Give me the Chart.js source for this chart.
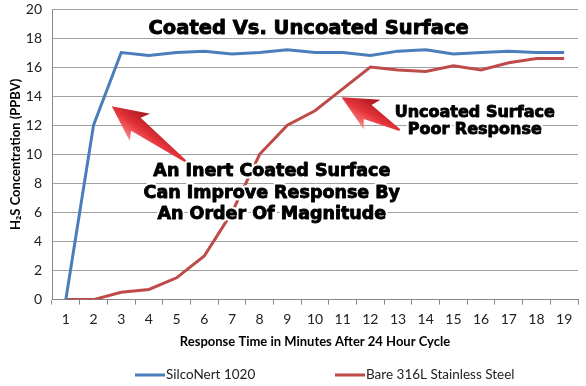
<!DOCTYPE html>
<html>
<head>
<meta charset="utf-8">
<script src="https://cdn.jsdelivr.net/npm/chart.js@4"></script>
<style>
  html, body { margin: 0; padding: 0; background: #fff; }
  #wrap { width: 586px; height: 386px; }
</style>
</head>
<body>
<div id="wrap"><canvas id="chart"></canvas></div>
<script>
const minutes = ['1','2','3','4','5','6','7','8','9','10','11','12','13','14','15','16','17','18','19'];
const silconert = [0, 12, 17, 16.8, 17, 17.1, 16.9, 17, 17.2, 17, 17, 16.8, 17.1, 17.2, 16.9, 17, 17.1, 17, 17];
const bareSteel = [0, 0, 0.5, 0.7, 1.5, 3, 6, 10, 12, 13, 14.5, 16, 15.8, 15.7, 16.1, 15.8, 16.3, 16.6, 16.6];
const yTicks = [0, 2, 4, 6, 8, 10, 12, 14, 16, 18, 20];

// callouts drawn on top of the plot, placed in data units
const titleText = 'Coated Vs. Uncoated Surface';
const noteCoated = ['An Inert Coated Surface', 'Can Improve Response By', 'An Order Of Magnitude'];
const noteBare = ['Uncoated Surface', 'Poor Response'];

function drawArrow(ctx, x1, y1, x2, y2) {
  // fat 3d-ish arrow from tail (x1,y1) to tip (x2,y2)
  const ang = Math.atan2(y2 - y1, x2 - x1);
  const len = Math.hypot(x2 - x1, y2 - y1);
  ctx.save();
  ctx.translate(x1, y1);
  ctx.rotate(ang);
  const head = 30, hw = 17, sw = 1, sw2 = 8;
  ctx.beginPath();
  ctx.moveTo(0, -sw);
  ctx.lineTo(len - head, -sw2);
  ctx.lineTo(len - head - 5, -hw);
  ctx.lineTo(len, 0);
  ctx.lineTo(len - head - 5, hw);
  ctx.lineTo(len - head, sw2);
  ctx.lineTo(0, sw);
  ctx.closePath();
  const g = ctx.createLinearGradient(0, -hw, 0, hw);
  g.addColorStop(0, '#fa8a8a');
  g.addColorStop(0.45, '#e6343b');
  g.addColorStop(1, '#a3121a');
  ctx.fillStyle = g;
  ctx.fill();
  ctx.restore();
}

function haloText(ctx, text, x, y) {
  ctx.lineJoin = 'round';
  ctx.lineWidth = 5;
  ctx.strokeStyle = '#fff';
  ctx.strokeText(text, x, y);
  ctx.lineWidth = 0.9;
  ctx.strokeStyle = '#000';
  ctx.strokeText(text, x, y);
  ctx.fillStyle = '#000';
  ctx.fillText(text, x, y);
}

const callouts = {
  id: 'callouts',
  afterDatasetsDraw(chart) {
    const ctx = chart.ctx;
    const xs = chart.scales.x, ys = chart.scales.y;
    const px = v => xs.getPixelForValue(v - 1);
    const py = v => ys.getPixelForValue(v);
    ctx.save();
    drawArrow(ctx, px(5.37), py(9.45), px(2.66), py(13.3));
    drawArrow(ctx, px(13.06), py(11.66), px(10.96), py(13.93));
    ctx.textAlign = 'center';
    ctx.textBaseline = 'middle';
    ctx.font = 'bold 19.5px "DejaVu Sans"';
    haloText(ctx, titleText, px(9.77), py(18.6));
    ctx.font = 'bold 17.5px "DejaVu Sans"';
    const c1 = [8.83, 7.31, 5.86];
    noteCoated.forEach((t, i) => haloText(ctx, t, px(8.44), py(c1[i])));
    ctx.font = 'bold 16px "DejaVu Sans"';
    const c2 = [12.83, 11.66];
    noteBare.forEach((t, i) => haloText(ctx, t, px(15.77), py(c2[i])));
    ctx.restore();
  }
};

// legend drawn by hand so the two entries sit far apart like the original
const legendStarts = [135, 335];
const bottomLegend = {
  id: 'bottomLegend',
  afterDraw(chart) {
    const ctx = chart.ctx;
    const y = chart.height - 11;
    ctx.save();
    ctx.font = '13.5px Lato';
    ctx.textBaseline = 'middle';
    ctx.textAlign = 'left';
    chart.data.datasets.forEach((ds, i) => {
      const x = legendStarts[i];
      ctx.fillStyle = ds.borderColor;
      ctx.fillRect(x, y - 1.5, 30, 3);
      ctx.fillStyle = '#222';
      ctx.fillText(ds.label, x + 31, y);
    });
    ctx.restore();
  }
};

new Chart(document.getElementById('chart'), {
  type: 'line',
  data: {
    labels: minutes,
    datasets: [
      {
        label: 'SilcoNert 1020',
        data: silconert,
        borderColor: '#4a7ebb',
        backgroundColor: '#4a7ebb',
        borderWidth: 3,
        pointRadius: 0,
        tension: 0
      },
      {
        label: 'Bare 316L Stainless Steel',
        data: bareSteel,
        borderColor: '#be4b48',
        backgroundColor: '#be4b48',
        borderWidth: 3,
        pointRadius: 0,
        tension: 0
      }
    ]
  },
  options: {
    responsive: true,
    maintainAspectRatio: false,
    animation: false,
    layout: { padding: { top: 9, right: 8, left: 4, bottom: 36 } },
    plugins: {
      legend: { display: false },
      tooltip: { enabled: false }
    },
    scales: {
      x: {
        offset: true,
        grid: { offset: true, drawOnChartArea: false, drawTicks: true, tickLength: 5, color: '#888' },
        border: { color: '#888' },
        ticks: { color: '#222', font: { family: 'Lato', size: 14 }, padding: 6, maxRotation: 0 },
        title: {
          display: true,
          text: 'Response Time in Minutes After 24 Hour Cycle',
          color: '#000',
          font: { family: 'Lato', size: 13, weight: 'bold' },
          padding: { top: 1, bottom: 0 }
        }
      },
      y: {
        min: 0,
        max: 20,
        afterBuildTicks: axis => { axis.ticks = yTicks.map(v => ({ value: v })); },
        afterFit: axis => { axis.width = 48; axis.paddingTop = 0; },
        grid: { color: '#a0a0a0', lineWidth: 1, drawTicks: false },
        border: { color: '#888' },
        ticks: { color: '#222', font: { family: 'Lato', size: 14 }, padding: 10 },
        title: {
          display: true,
          text: 'H\u2082S Concentration (PPBV)',
          color: '#000',
          font: { family: 'Lato', size: 13, weight: 'bold' },
          padding: { top: 4, bottom: 2 }
        }
      }
    }
  },
  plugins: [callouts, bottomLegend]
});
</script>
</body>
</html>
